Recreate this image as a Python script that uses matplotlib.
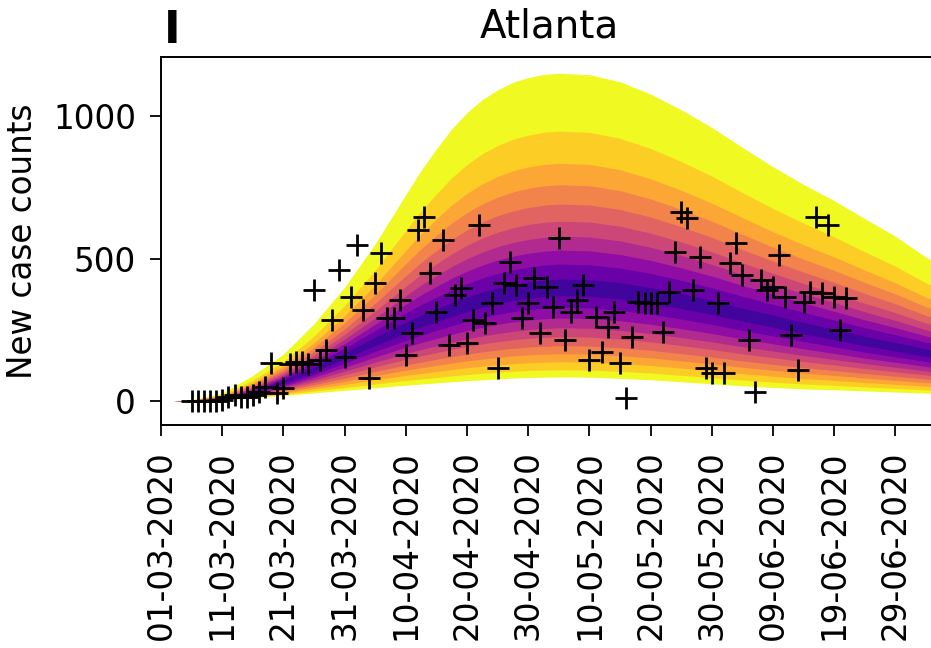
import numpy as np
import pandas as pd
import matplotlib
matplotlib.use('Agg')
import matplotlib.pyplot as plt

plt.rcParams['font.family'] = 'DejaVu Sans'

start = pd.Timestamp('2020-03-01')

# model fan: outer envelope, centre line and lower envelope (new cases per day)
fan_days = [2, 5, 10, 15, 20, 25, 30, 35, 40, 42.5, 45, 47.5, 50, 52.5, 55, 57.5,
            60, 62.5, 65, 70, 75, 80, 85, 90, 95, 100, 105, 110, 115, 120, 125, 130]
fan_upper = [0, 5, 28, 90, 165, 272, 400, 552, 725, 810, 885, 955, 1012, 1058,
             1092, 1118, 1135, 1146, 1150, 1145, 1120, 1077, 1022, 960, 890, 822,
             760, 703, 640, 578, 505, 450]
fan_center = [0, 2, 8, 30, 68, 112, 160, 210, 258, 280, 300, 320, 338, 354, 368,
              379, 388, 394, 398, 396, 386, 370, 350, 328, 303, 280, 256, 233,
              210, 190, 170, 155]
fan_lower = [0, 0, 3, 12, 20, 29, 38, 47, 56, 60, 64, 68, 72, 75, 78, 81, 83, 84,
             85, 84, 80, 75, 68, 61, 54, 48, 43, 40, 36, 32, 28, 25]

# position of each quantile band edge, outermost first
upper_frac = [1.0, 0.73, 0.58, 0.48, 0.39, 0.31, 0.24, 0.175, 0.11, 0.04]
lower_frac = [1.0, 0.92, 0.83, 0.74, 0.65, 0.55, 0.45, 0.34, 0.22, 0.09]

# observed daily counts
obs_days = list(range(5, 113))
obs_counts = [0, 0, 0, 0, 2, 5, 14, 21, 14, 14, 21, 32, 49, 133, 28, 46,
              132, 137, 137, 132, 389, 144, 179, 284, 460, 154, 365, 547, 319, 81,
              414, 519, 291, 291, 354, 161, 239, 600, 645, 449, 312, 565, 196, 372,
              396, 203, 284, 617, 274, 344, 116, 414, 488, 407, 291, 344, 431, 239,
              400, 330, 572, 214, 312, 354, 407, 144, 295, 172, 260, 312, 133, 11,
              225, 347, 344, 344, 344, 242, 382, 523, 663, 642, 389, 505, 116, 98,
              344, 98, 484, 554, 442, 214, 32, 424, 389, 400, 512, 365, 232, 109,
              347, 382, 646, 380, 618, 365, 249, 361]

tick_dates = pd.date_range('2020-03-01', periods=13, freq='10D')

fan_x = start + pd.to_timedelta(fan_days, unit='D')
obs_x = start + pd.to_timedelta(obs_days, unit='D')
up = np.array(fan_upper, float)
mid = np.array(fan_center, float)
lo = np.array(fan_lower, float)

fig = plt.figure(figsize=(9.31, 6.48), dpi=100)
ax = fig.add_axes([0.173, 0.344, 0.8335, 0.568])

cols = plt.cm.plasma(np.linspace(1.0, 0.1, len(upper_frac)))
for i in range(len(upper_frac)):
    top = mid + upper_frac[i] * (up - mid)
    bot = mid - lower_frac[i] * (mid - lo)
    ax.fill_between(fan_x, bot, top, color=cols[i], lw=0, zorder=1)

ax.plot(obs_x, obs_counts, 'k+', ms=16, mew=2, zorder=3)

ax.set_xlim(start, start + pd.Timedelta(days=126.8))
ax.set_ylim(-84, 1207)
ax.set_yticks([0, 500, 1000])
ax.set_xticks(tick_dates)
ax.set_xticklabels([d.strftime('%d-%m-%Y') for d in tick_dates], rotation=90)
ax.tick_params(labelsize=23.5, length=8, width=1.3, pad=10)
for s in ax.spines.values():
    s.set_linewidth(1.4)
ax.set_ylabel('New case counts', fontsize=23.5, labelpad=10)
ax.set_title('Atlanta', fontsize=28, pad=14)
fig.text(0.176, 1 - 43 / 648, 'I', fontsize=32, fontweight='bold', va='baseline')

fig.savefig('out.png', dpi=100)
